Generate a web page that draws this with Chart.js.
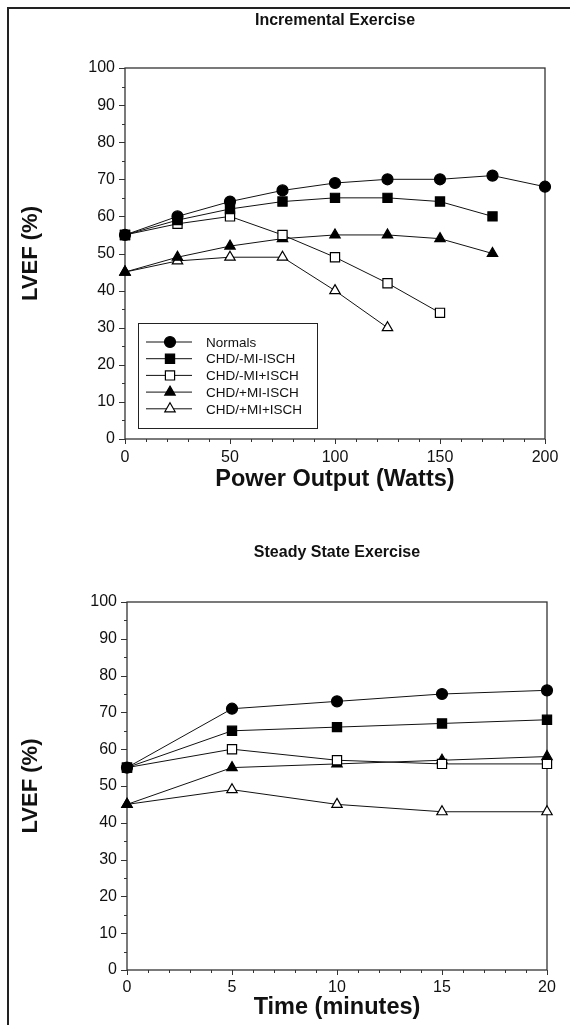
<!DOCTYPE html>
<html lang="en">
<head>
<meta charset="UTF-8">
<title>LVEF during exercise</title>
<script src="https://cdn.jsdelivr.net/npm/chart.js"></script>
<style>
    body {
        margin: 0;
        background: #fff;
        width: 570px;
        height: 1025px;
        overflow: hidden;
        position: relative;
    }
    .frame {
        position: absolute;
        left: 7px;
        top: 7px;
        width: 600px;
        height: 1100px;
        border-left: 2px solid #222;
        border-top: 2px solid #222;
    }
    canvas { position: absolute; left: 0; }
    #incChart { top: 0; }
    #ssChart { top: 520px; }
</style>
</head>
<body>
<div class="frame"></div>
<canvas id="incChart" width="570" height="510"></canvas>
<canvas id="ssChart" width="570" height="505"></canvas>

<script>
    // series names (same groups in both panels)
    const seriesNames = ['Normals', 'CHD/-MI-ISCH', 'CHD/-MI+ISCH', 'CHD/+MI-ISCH', 'CHD/+MI+ISCH'];

    // incremental exercise: LVEF (%) vs power output (watts)
    const powerWatts = [0, 25, 50, 75, 100, 125, 150, 175, 200];
    const incNormals = [55, 60, 64, 67, 69, 70, 70, 71, 68];
    const incNoMiNoIsch = [55, 59, 62, 64, 65, 65, 64, 60];
    const incNoMiIsch = [55, 58, 60, 55, 49, 42, 34];
    const incMiNoIsch = [45, 49, 52, 54, 55, 55, 54, 50];
    const incMiIsch = [45, 48, 49, 49, 40, 30];

    // steady state exercise: LVEF (%) vs time (minutes)
    const timeMinutes = [0, 5, 10, 15, 20];
    const ssNormals = [55, 71, 73, 75, 76];
    const ssNoMiNoIsch = [55, 65, 66, 67, 68];
    const ssNoMiIsch = [55, 60, 57, 56, 56];
    const ssMiNoIsch = [45, 55, 56, 57, 58];
    const ssMiIsch = [45, 49, 45, 43, 43];

    const FONT = '"Liberation Sans", Arial, Helvetica, sans-serif';
    Chart.defaults.font.family = FONT;
    Chart.defaults.color = '#111';

    // marker look per series
    const markerStyles = [
        { pointStyle: 'circle', radius: 5.5, fill: '#000' },
        { pointStyle: 'rect', radius: 6.5, fill: '#000' },
        { pointStyle: 'rect', radius: 6.5, fill: '#fff' },
        { pointStyle: 'triangle', radius: 6, fill: '#000' },
        { pointStyle: 'triangle', radius: 6, fill: '#fff' }
    ];

    function makeDatasets(xs, lists) {
        return lists.map((vals, i) => ({
            label: seriesNames[i],
            data: vals.map((v, j) => ({ x: xs[j], y: v })),
            borderColor: '#111',
            borderWidth: 1,
            pointStyle: markerStyles[i].pointStyle,
            pointRadius: markerStyles[i].radius,
            pointBackgroundColor: markerStyles[i].fill,
            pointBorderColor: '#000',
            pointBorderWidth: 1.2,
            tension: 0,
            clip: false
        }));
    }

    // draw a marker like chart.js does
    function drawMarker(ctx, style, x, y) {
        const r = style.radius;
        ctx.beginPath();
        if (style.pointStyle === 'circle') {
            ctx.arc(x, y, r, 0, Math.PI * 2);
        } else if (style.pointStyle === 'rect') {
            const s = Math.SQRT1_2 * r;
            ctx.rect(x - s, y - s, 2 * s, 2 * s);
        } else {
            ctx.moveTo(x, y - r);
            ctx.lineTo(x + r * Math.sin(2 * Math.PI / 3), y - r * Math.cos(2 * Math.PI / 3));
            ctx.lineTo(x + r * Math.sin(4 * Math.PI / 3), y - r * Math.cos(4 * Math.PI / 3));
            ctx.closePath();
        }
        ctx.fillStyle = style.fill;
        ctx.fill();
        ctx.lineWidth = 1.2;
        ctx.strokeStyle = '#000';
        ctx.stroke();
    }

    // box around plot + major/minor ticks
    const axisDecor = {
        id: 'axisDecor',
        beforeDatasetsDraw(chart, args, opts) {
            const { ctx, chartArea: a, scales: { x, y } } = chart;
            ctx.save();
            ctx.strokeStyle = '#333';
            ctx.lineWidth = 1.3;
            ctx.strokeRect(a.left, a.top, a.right - a.left, a.bottom - a.top);
            ctx.lineWidth = 1;
            ctx.beginPath();
            for (let v = y.min; v <= y.max + 1e-6; v += opts.yMinor) {
                const py = Math.round(y.getPixelForValue(v)) + 0.5;
                const len = (Math.abs(v % opts.yMajor) < 1e-6) ? 6 : 3;
                ctx.moveTo(a.left - len, py);
                ctx.lineTo(a.left, py);
            }
            for (let v = x.min; v <= x.max + 1e-6; v += opts.xMinor) {
                const px = Math.round(x.getPixelForValue(v)) + 0.5;
                const len = (Math.abs(v % opts.xMajor) < 1e-6) ? 5 : 3;
                ctx.moveTo(px, a.bottom);
                ctx.lineTo(px, a.bottom + len);
            }
            ctx.stroke();
            ctx.restore();
        }
    };

    // boxed legend inside the plot (top panel only)
    const boxLegend = {
        id: 'boxLegend',
        afterDatasetsDraw(chart, args, opts) {
            if (!opts.show) return;
            const { ctx } = chart;
            ctx.save();
            ctx.strokeStyle = '#222';
            ctx.lineWidth = 1;
            ctx.strokeRect(opts.left + 0.5, opts.top + 0.5, opts.width, opts.height);
            ctx.font = '13.5px ' + FONT;
            ctx.textBaseline = 'middle';
            chart.data.datasets.forEach((ds, i) => {
                const yy = opts.top + 19 + i * 16.7;
                ctx.beginPath();
                ctx.strokeStyle = '#111';
                ctx.lineWidth = 1;
                ctx.moveTo(opts.left + 8, yy);
                ctx.lineTo(opts.left + 54, yy);
                ctx.stroke();
                drawMarker(ctx, markerStyles[i], opts.left + 32, yy);
                ctx.fillStyle = '#111';
                ctx.fillText(ds.label, opts.left + 68, yy + 1);
            });
            ctx.restore();
        }
    };

    function makeChart(id, cfg) {
        return new Chart(document.getElementById(id), {
            type: 'line',
            data: { datasets: makeDatasets(cfg.xs, cfg.lists) },
            options: {
                responsive: false,
                animation: false,
                devicePixelRatio: 1,
                layout: { padding: { left: 0, right: cfg.rightPad, top: 0, bottom: 0 } },
                plugins: {
                    legend: { display: false },
                    tooltip: { enabled: false },
                    title: {
                        display: true,
                        text: cfg.title,
                        fullSize: false,
                        color: '#111',
                        font: { size: 16, weight: 'bold' },
                        padding: { top: cfg.titleTop, bottom: cfg.titleBottom }
                    },
                    axisDecor: { xMinor: cfg.xMinor, xMajor: cfg.xMajor, yMinor: 5, yMajor: 10 },
                    boxLegend: cfg.legend
                },
                scales: {
                    x: {
                        type: 'linear',
                        min: 0,
                        max: cfg.xMax,
                        grid: { display: false, drawTicks: false },
                        border: { display: false },
                        ticks: { stepSize: cfg.xMajor, padding: cfg.xTickPad, font: { size: 16 }, color: '#111', maxRotation: 0 },
                        title: {
                            display: true,
                            text: cfg.xTitle,
                            color: '#111',
                            font: { size: 23.5, weight: 'bold' },
                            padding: { top: 0, bottom: cfg.xTitleBottom }
                        },
                        afterFit: s => { s.height = cfg.xHeight; }
                    },
                    y: {
                        min: 0,
                        max: 100,
                        grid: { display: false, drawTicks: false },
                        border: { display: false },
                        ticks: { stepSize: 10, padding: 10, font: { size: 16 }, color: '#111' },
                        title: {
                            display: true,
                            text: 'LVEF (%)',
                            color: '#111',
                            font: { size: 22, weight: 'bold' },
                            padding: { top: 18, bottom: 0 }
                        },
                        afterFit: s => { s.width = cfg.yWidth; }
                    }
                }
            },
            plugins: [axisDecor, boxLegend]
        });
    }

    makeChart('incChart', {
        xs: powerWatts,
        lists: [incNormals, incNoMiNoIsch, incNoMiIsch, incMiNoIsch, incMiIsch],
        title: 'Incremental Exercise',
        titleTop: 10.5,
        titleBottom: 38.3,
        xTitle: 'Power Output (Watts)',
        xMax: 200, xMajor: 50, xMinor: 10,
        xTickPad: 9, xTitleBottom: 16, xHeight: 71,
        yWidth: 125, rightPad: 25,
        legend: { show: true, left: 138, top: 323, width: 179, height: 105 }
    });

    makeChart('ssChart', {
        xs: timeMinutes,
        lists: [ssNormals, ssNoMiNoIsch, ssNoMiIsch, ssMiNoIsch, ssMiIsch],
        title: 'Steady State Exercise',
        titleTop: 22.5,
        titleBottom: 40.3,
        xTitle: 'Time (minutes)',
        xMax: 20, xMajor: 5, xMinor: 1,
        xTickPad: 8, xTitleBottom: 3, xHeight: 55,
        yWidth: 127, rightPad: 23,
        legend: { show: false }
    });
</script>
</body>
</html>
